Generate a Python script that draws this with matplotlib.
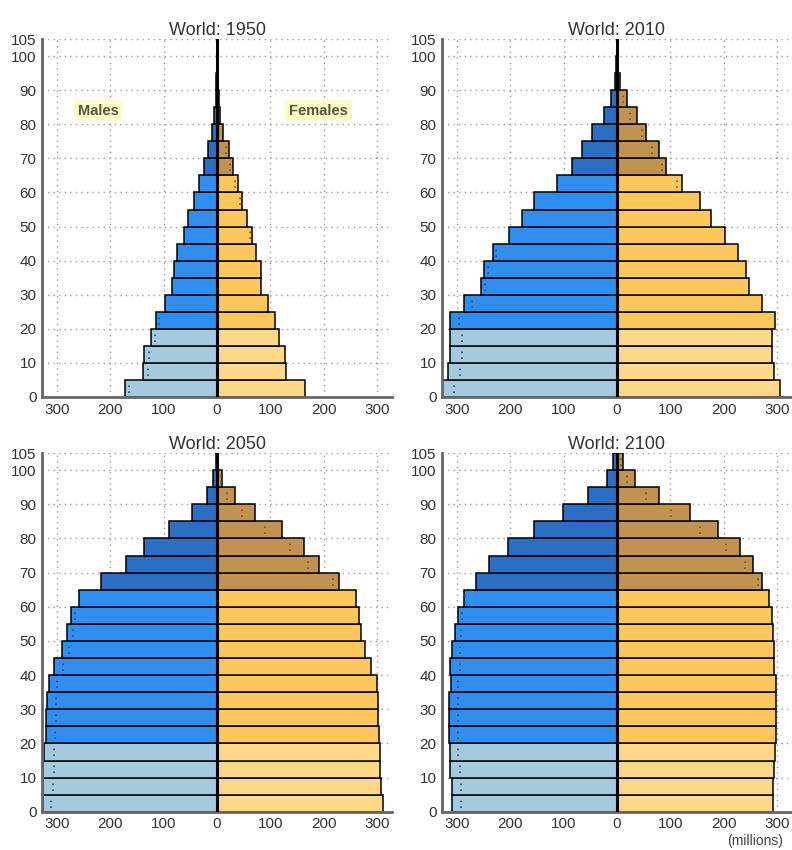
import numpy as np
import matplotlib.pyplot as plt

plt.rcParams['font.family'] = ['Liberation Sans', 'DejaVu Sans']

# population by 5-year age group (0-4 ... 95-99, 100+), millions
ages = np.arange(0, 105, 5)

male_1950 = [173, 139, 136, 123, 114, 97, 84, 81, 75, 62, 54, 42.5, 34, 25, 17, 10, 5.6, 2.5, 1, 0.3, 0.05]
female_1950 = [165, 130, 127, 116, 109, 96, 82.5, 82.5, 74, 65, 56, 46, 39, 30, 22, 11, 6, 3.5, 1.5, 0.5, 0.1]

male_2010 = [335, 316, 312, 312, 312, 286, 255, 250, 232, 202, 178, 155, 112, 84, 66, 46, 25, 11, 4.5, 1.5, 0.2]
female_2010 = [306, 294, 291, 291, 296, 272, 247, 241, 227, 202, 176, 156, 122, 92.5, 78, 54, 37, 19, 6, 2, 0.3]

male_2050 = [326, 326, 326, 324, 321, 320, 319, 315, 306, 290, 282, 274, 259, 217, 170, 137, 90, 47.5, 18, 7.5, 1]
female_2050 = [311, 308, 306, 305, 303, 302, 301, 299, 289, 278, 269, 266, 261, 229, 191, 162.5, 122, 72, 33, 10, 2]

male_2100 = [309, 309, 312, 312, 315, 314, 314, 311, 312, 310, 304, 297, 287, 265, 240, 205, 155, 101, 54, 19, 7.5]
female_2100 = [293, 293, 295, 297, 298, 298, 298, 298, 295, 295, 292, 291, 284, 272, 255, 230, 190, 137, 79, 33, 11]

panels = [("World: 1950", male_1950, female_1950),
          ("World: 2010", male_2010, female_2010),
          ("World: 2050", male_2050, female_2050),
          ("World: 2100", male_2100, female_2100)]

# colours: young (0-19), working (20-64), old (65+)
male_cols = ["#a4cae0", "#2f8ef0", "#2a6fc4"]
female_cols = ["#fdd886", "#fdc75e", "#c29350"]
male_dot = "#1f4f8a"
female_dot = "#7a5520"

def group(a):
    if a < 20:
        return 0
    if a < 65:
        return 1
    return 2

fig = plt.figure(figsize=(7.92, 8.5), dpi=100)
positions = [[0.053, 0.533, 0.442, 0.421],
             [0.558, 0.533, 0.442, 0.421],
             [0.053, 0.045, 0.442, 0.422],
             [0.558, 0.045, 0.442, 0.422]]

for pos, (title, m, f) in zip(positions, panels):
    ax = fig.add_axes(pos)
    m = np.array(m, dtype=float)
    f = np.array(f, dtype=float)
    mc = [male_cols[group(a)] for a in ages]
    fc = [female_cols[group(a)] for a in ages]
    ax.barh(ages, -m, height=5, align="edge", color=mc, edgecolor="black", linewidth=1.1, zorder=2)
    ax.barh(ages, f, height=5, align="edge", color=fc, edgecolor="black", linewidth=1.1, zorder=2)
    # mirrored opposite-sex markers, only where they fall inside the bar
    on_m = (f < m - 2) & (f > 6)
    on_f = (m < f - 2) & (m > 6)
    ax.vlines(-f[on_m], ages[on_m] + 1.2, ages[on_m] + 3.8, colors=male_dot, linestyles=(0, (1, 2.5)), linewidth=1.2, zorder=3)
    ax.vlines(m[on_f], ages[on_f] + 1.2, ages[on_f] + 3.8, colors=female_dot, linestyles=(0, (1, 2.5)), linewidth=1.2, zorder=3)
    ax.plot([0, 0], [0, 105], color="black", linewidth=2.2, zorder=4)

    ax.set_xlim(-328, 328)
    ax.set_ylim(0, 105)
    ax.set_xticks([-300, -200, -100, 0, 100, 200, 300])
    ax.set_xticklabels(["300", "200", "100", "0", "100", "200", "300"])
    ax.set_yticks([0, 10, 20, 30, 40, 50, 60, 70, 80, 90, 100, 105])
    ax.grid(True, color="#999999", linestyle=(0, (1, 3)), linewidth=1.0, zorder=0)
    ax.set_axisbelow(True)
    ax.tick_params(length=0, labelsize=11, colors="#333333", pad=4)
    for s in ["top", "right"]:
        ax.spines[s].set_visible(False)
    for s in ["left", "bottom"]:
        ax.spines[s].set_color("#666666")
        ax.spines[s].set_linewidth(2)
    ax.set_title(title, fontsize=13, color="#333333", pad=3)

    if title.endswith("1950"):
        box = dict(boxstyle="square,pad=0.25", facecolor="#fdfcc8", edgecolor="none")
        ax.text(-223, 84, "Males", ha="center", va="center", fontsize=10.5, fontweight="bold", color="#555544", bbox=box)
        ax.text(190, 84, "Females", ha="center", va="center", fontsize=10.5, fontweight="bold", color="#555544", bbox=box)

fig.text(0.953, 0.01, "(millions)", ha="center", va="center", fontsize=10, color="#444444")

fig.savefig("out.png", dpi=100)
